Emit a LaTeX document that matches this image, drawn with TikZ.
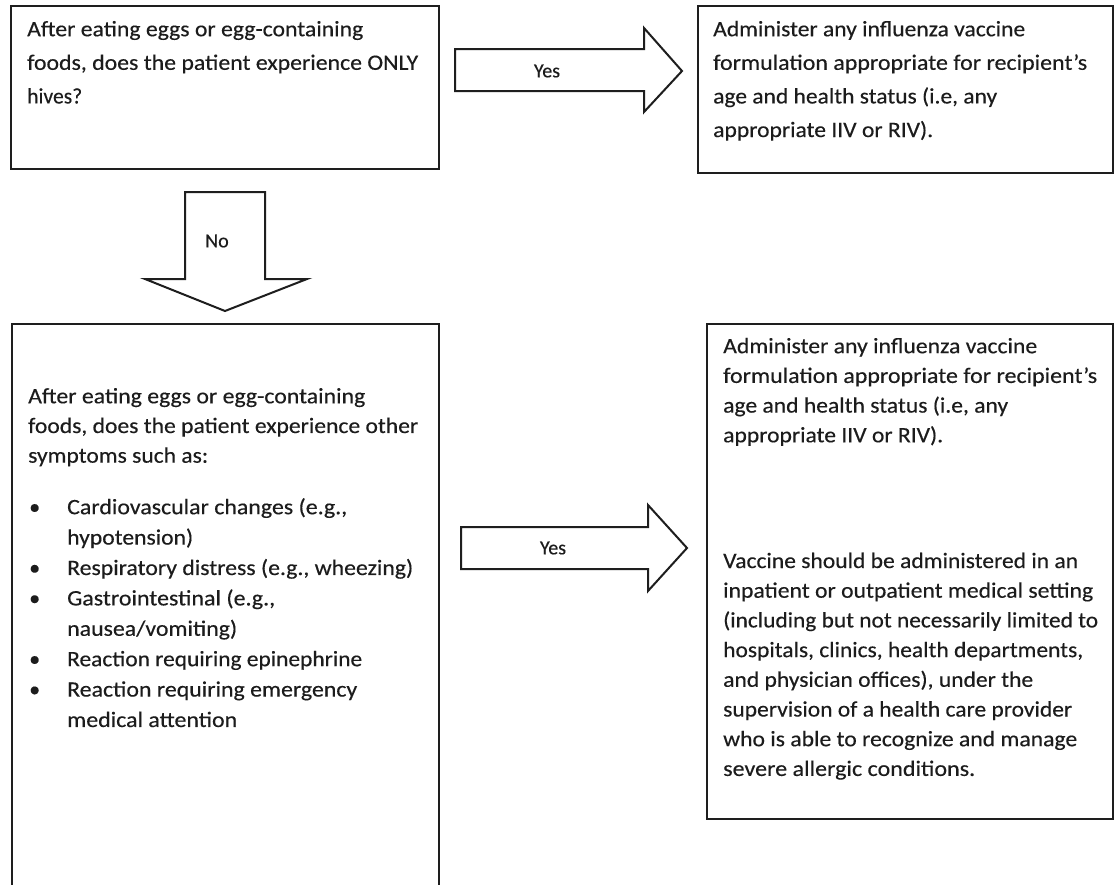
\documentclass[tikz,border=0pt]{standalone}
\usepackage{fontspec}
\setmainfont{Carlito}[FakeBold=0.3]
\definecolor{linec}{HTML}{1E1E1E}
\definecolor{textc}{HTML}{1C1C1C}
\newcommand{\fw}[2]{\resizebox{#1pt}{\height}{#2}}
\newcommand{\bul}{\makebox[39pt][l]{\hspace*{1pt}\textbullet}}
\newcommand{\cont}{\hspace*{39pt}}
\begin{document}
\begin{tikzpicture}[x=1pt,y=-1pt,
  boxstyle/.style={draw=linec, line width=2.2pt, inner sep=0pt, anchor=north west, fill=white},
  blockarrow/.style={draw=linec, line width=2pt, line join=miter, fill=white},
  lbl/.style={font=\fontsize{20}{24}\selectfont, text=textc, inner sep=0pt},
  txta/.style={font=\fontsize{22}{33.6}\selectfont, text=textc, align=left, inner sep=0pt, anchor=north west},
  txtb/.style={font=\fontsize{22}{29.7}\selectfont, text=textc, align=left, inner sep=0pt, anchor=north west},
  txtc/.style={font=\fontsize{22}{30.4}\selectfont, text=textc, align=left, inner sep=0pt, anchor=north west}]
\useasboundingbox (0,0) rectangle (1114,884);
\clip (0,0) rectangle (1114,884);
\fill[white] (0,0) rectangle (1114,884);

% boxes
\node[boxstyle, minimum width=428pt, minimum height=163pt] (q1) at (10,5) {};
\node[boxstyle, minimum width=415pt, minimum height=167pt] (r1) at (697,5) {};
\node[boxstyle, minimum width=427pt, minimum height=600pt] (q2) at (11,323) {};
\node[boxstyle, minimum width=406pt, minimum height=495pt] (r2) at (706,323) {};

% texts
\node[txta] (q1t) at (27,12.5) {\strut\fw{336}{After eating eggs or egg-containing}\\\fw{391}{foods, does the patient experience ONLY}\\\fw{55}{hives?}};
\node[txta] (r1t) at (713,12.5) {\strut\fw{312}{Administer any influenza vaccine}\\\fw{374}{formulation appropriate for recipient’s}\\\fw{284}{age and health status (i.e, any}\\\fw{220}{appropriate IIV or RIV).}};
\node[txtb] (q2t) at (28,382.3) {\strut\fw{337}{After eating eggs or egg-containing}\\\fw{390}{foods, does the patient experience other}\\\fw{180}{symptoms such as:}};
\node[txtc] (q2l) at (28,492.7) {\strut\bul\fw{280}{Cardiovascular changes (e.g.,}\\\cont\fw{126}{hypotension)}\\\bul\fw{346}{Respiratory distress (e.g., wheezing)}\\\bul\fw{208}{Gastrointestinal (e.g.,}\\\cont\fw{170}{nausea/vomiting)}\\\bul\fw{295}{Reaction requiring epinephrine}\\\bul\fw{290}{Reaction requiring emergency}\\\cont\fw{170}{medical attention}};
\node[txtb] (r2t) at (723,332.2) {\strut\fw{314}{Administer any influenza vaccine}\\\fw{374}{formulation appropriate for recipient’s}\\\fw{285}{age and health status (i.e, any}\\\fw{220}{appropriate IIV or RIV).}};
\node[txtb] (r2u) at (723,547) {\strut\fw{355}{Vaccine should be administered in an}\\\fw{370}{inpatient or outpatient medical setting}\\\fw{375}{(including but not necessarily limited to}\\\fw{360}{hospitals, clinics, health departments,}\\\fw{310}{and physician offices), under the}\\\fw{349}{supervision of a health care provider}\\\fw{354}{who is able to recognize and manage}\\\fw{252}{severe allergic conditions.}};

% block arrows
\draw[blockarrow] (455,49) -- (644,49) -- (644,28) -- (682,71) -- (644,112) -- (644,91) -- (455,91) -- cycle;
\node[lbl] (y1) at (547,71) {Yes};
\draw[blockarrow] (185,192) -- (265,192) -- (265,279) -- (307,279) -- (225,311) -- (145,279) -- (185,279) -- cycle;
\node[lbl] (n1) at (217,241) {No};
\draw[blockarrow] (461,527) -- (648,527) -- (648,505) -- (687,548) -- (648,591) -- (648,569) -- (461,569) -- cycle;
\node[lbl] (y2) at (553,548) {Yes};
\end{tikzpicture}
\end{document}
